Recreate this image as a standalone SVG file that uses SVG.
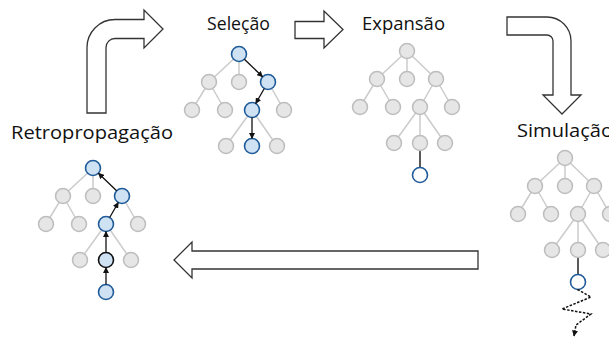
<svg xmlns="http://www.w3.org/2000/svg" width="609" height="341" viewBox="0 0 609 341">
<style>
.lbl{font-family:"Open Sans","Liberation Sans",sans-serif;font-size:18.5px;font-weight:500;fill:#111}
.e{stroke:#cbcbcb;stroke-width:1.5;fill:none}
.ed{stroke:#222;stroke-width:1.5;fill:none}
.g{fill:#e6e6e6;stroke:#bdbdbd;stroke-width:1.5}
.b{fill:#cfe2f3;stroke:#1f5b99;stroke-width:1.6}
.bk{fill:#cfe2f3;stroke:#111;stroke-width:1.6}
.w{fill:#ffffff;stroke:#1f5b99;stroke-width:1.6}
.ar{stroke:#111;stroke-width:1.3;fill:none;marker-end:url(#ah)}
.blk{fill:#fff;stroke:#333;stroke-width:1.3;stroke-linejoin:miter}
</style>
<defs>
<marker id="ah" markerUnits="userSpaceOnUse" markerWidth="6" markerHeight="6" refX="5.5" refY="3" orient="auto"><path d="M0,0 L6,3 L0,6 Z" fill="#111"/></marker>
</defs>

<g id="connectors">
<path class="blk" d="M87,113 L87,47.5 A28,28 0 0 1 115,19.5 L144,19.5 L144,10 L163,29 L144,48 L144,38.5 L115,38.5 A9,9 0 0 0 106,47.5 L106,113 Z"/>
<path class="blk" d="M295,21.5 L324,21.5 L324,11 L343,29.5 L324,48 L324,38.5 L295,38.5 Z"/>
<path class="blk" d="M507,17 L547,17 A24,24 0 0 1 571,41 L571,95 L581,95 L562,114 L543,95 L553,95 L553,41 A6,6 0 0 0 547,35 L507,35 Z"/>
<path class="blk" d="M478,251 L192,251 L192,242 L174,260 L192,278 L192,269 L478,269 Z"/>
</g>

<g id="selecao">
<text class="lbl" x="207" y="30" textLength="63" lengthAdjust="spacingAndGlyphs">Seleção</text>
<line class="e" x1="239" y1="54" x2="209" y2="82"/>
<line class="e" x1="239" y1="54" x2="239" y2="82"/>
<line class="e" x1="209" y1="82" x2="192" y2="110"/>
<line class="e" x1="209" y1="82" x2="225" y2="110"/>
<line class="e" x1="268" y1="82" x2="284" y2="110"/>
<line class="e" x1="252" y1="110" x2="226" y2="146"/>
<line class="e" x1="252" y1="110" x2="277" y2="146"/>
<circle class="g" cx="209" cy="82" r="7.5"/>
<circle class="g" cx="239" cy="82" r="7.5"/>
<circle class="g" cx="192" cy="110" r="7.5"/>
<circle class="g" cx="225" cy="110" r="7.5"/>
<circle class="g" cx="284" cy="110" r="7.5"/>
<circle class="g" cx="226" cy="146" r="7.5"/>
<circle class="g" cx="277" cy="146" r="7.5"/>
<circle class="b" cx="239" cy="54" r="7.5"/>
<circle class="b" cx="268" cy="82" r="7.5"/>
<circle class="b" cx="252" cy="110" r="7.5"/>
<circle class="b" cx="252" cy="146" r="7.5"/>
<line class="ar" x1="244.4" y1="59.2" x2="262.6" y2="76.8"/>
<line class="ar" x1="264.3" y1="88.5" x2="255.7" y2="103.5"/>
<line class="ar" x1="252" y1="117.5" x2="252" y2="138.5"/>
</g>

<g id="expansao">
<text class="lbl" x="362" y="30" textLength="83" lengthAdjust="spacingAndGlyphs">Expansão</text>
<line class="e" x1="407" y1="51" x2="377" y2="79"/>
<line class="e" x1="407" y1="51" x2="407" y2="79"/>
<line class="e" x1="407" y1="51" x2="436" y2="79"/>
<line class="e" x1="377" y1="79" x2="360" y2="107"/>
<line class="e" x1="377" y1="79" x2="393" y2="107"/>
<line class="e" x1="436" y1="79" x2="420" y2="107"/>
<line class="e" x1="436" y1="79" x2="452" y2="107"/>
<line class="e" x1="420" y1="107" x2="394" y2="143"/>
<line class="e" x1="420" y1="107" x2="420" y2="143"/>
<line class="e" x1="420" y1="107" x2="445" y2="143"/>
<line class="ed" x1="420" y1="150" x2="420" y2="168"/>
<circle class="g" cx="407" cy="51" r="7.5"/>
<circle class="g" cx="377" cy="79" r="7.5"/>
<circle class="g" cx="407" cy="79" r="7.5"/>
<circle class="g" cx="436" cy="79" r="7.5"/>
<circle class="g" cx="360" cy="107" r="7.5"/>
<circle class="g" cx="393" cy="107" r="7.5"/>
<circle class="g" cx="420" cy="107" r="7.5"/>
<circle class="g" cx="452" cy="107" r="7.5"/>
<circle class="g" cx="394" cy="143" r="7.5"/>
<circle class="g" cx="420" cy="143" r="7.5"/>
<circle class="g" cx="445" cy="143" r="7.5"/>
<circle class="w" cx="420" cy="175" r="7.5"/>
</g>

<g id="simulacao">
<text class="lbl" x="517" y="137" textLength="96" lengthAdjust="spacingAndGlyphs">Simulação</text>
<line class="e" x1="565" y1="158" x2="535" y2="186"/>
<line class="e" x1="565" y1="158" x2="565" y2="186"/>
<line class="e" x1="565" y1="158" x2="594" y2="186"/>
<line class="e" x1="535" y1="186" x2="518" y2="214"/>
<line class="e" x1="535" y1="186" x2="551" y2="214"/>
<line class="e" x1="594" y1="186" x2="578" y2="214"/>
<line class="e" x1="594" y1="186" x2="610" y2="214"/>
<line class="e" x1="578" y1="214" x2="552" y2="250"/>
<line class="e" x1="578" y1="214" x2="578" y2="250"/>
<line class="e" x1="578" y1="214" x2="603" y2="250"/>
<line class="ed" x1="578" y1="257" x2="578" y2="275"/>
<circle class="g" cx="565" cy="158" r="7.5"/>
<circle class="g" cx="535" cy="186" r="7.5"/>
<circle class="g" cx="565" cy="186" r="7.5"/>
<circle class="g" cx="594" cy="186" r="7.5"/>
<circle class="g" cx="518" cy="214" r="7.5"/>
<circle class="g" cx="551" cy="214" r="7.5"/>
<circle class="g" cx="578" cy="214" r="7.5"/>
<circle class="g" cx="610" cy="214" r="7.5"/>
<circle class="g" cx="552" cy="250" r="7.5"/>
<circle class="g" cx="578" cy="250" r="7.5"/>
<circle class="g" cx="603" cy="250" r="7.5"/>
<circle class="w" cx="578" cy="282" r="7.5"/>
<path d="M577.5,289.5 L591,297 L562,309 L591,314 L576,325 L574,336" stroke="#111" stroke-width="1.5" fill="none" stroke-dasharray="2.5 1.5" marker-end="url(#ah)"/>
</g>

<g id="retropropagacao">
<text class="lbl" x="11" y="139" textLength="162" lengthAdjust="spacingAndGlyphs">Retropropagação</text>
<line class="e" x1="93" y1="168" x2="63" y2="196"/>
<line class="e" x1="93" y1="168" x2="93" y2="196"/>
<line class="e" x1="63" y1="196" x2="46" y2="224"/>
<line class="e" x1="63" y1="196" x2="79" y2="224"/>
<line class="e" x1="122" y1="196" x2="138" y2="224"/>
<line class="e" x1="106" y1="224" x2="80" y2="260"/>
<line class="e" x1="106" y1="224" x2="131" y2="260"/>
<circle class="g" cx="63" cy="196" r="7.5"/>
<circle class="g" cx="93" cy="196" r="7.5"/>
<circle class="g" cx="46" cy="224" r="7.5"/>
<circle class="g" cx="79" cy="224" r="7.5"/>
<circle class="g" cx="138" cy="224" r="7.5"/>
<circle class="g" cx="80" cy="260" r="7.5"/>
<circle class="g" cx="131" cy="260" r="7.5"/>
<circle class="b" cx="93" cy="168" r="7.5"/>
<circle class="b" cx="122" cy="196" r="7.5"/>
<circle class="b" cx="106" cy="224" r="7.5"/>
<circle class="bk" cx="106" cy="260" r="7.5"/>
<circle class="b" cx="106" cy="292" r="7.5"/>
<line class="ar" x1="106" y1="284.5" x2="106" y2="267.5"/>
<line class="ar" x1="106" y1="252.5" x2="106" y2="231.5"/>
<line class="ar" x1="109.7" y1="217.5" x2="118.3" y2="202.5"/>
<line class="ar" x1="116.6" y1="190.8" x2="98.4" y2="173.2"/>
</g>
</svg>
